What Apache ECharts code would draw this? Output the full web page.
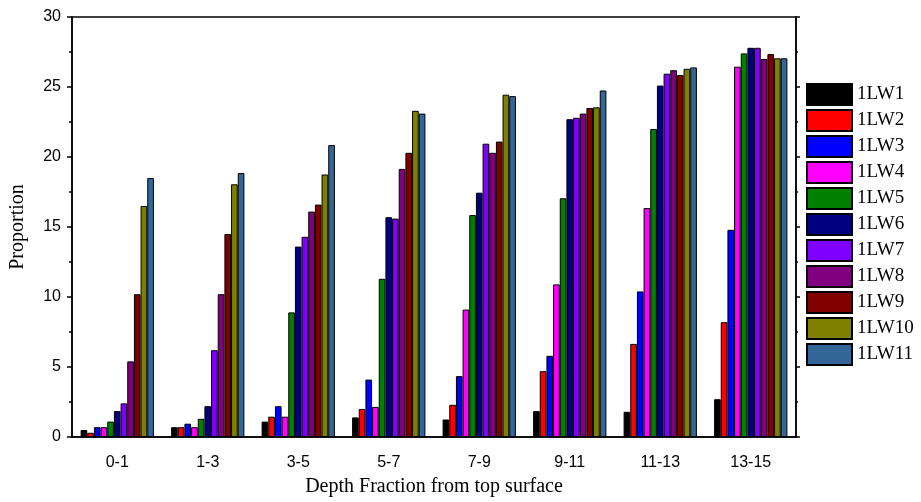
<!DOCTYPE html>
<html>
<head>
<meta charset="utf-8">
<script src="https://cdn.jsdelivr.net/npm/echarts@6/dist/echarts.min.js"></script>
<style>
  html, body { margin: 0; padding: 0; background: #fff; }
  #chart { width: 921px; height: 502px; }
</style>
</head>
<body>
<div id="chart"></div>
<script>
// depth fractions along the x axis
const categories = ['0-1', '1-3', '3-5', '5-7', '7-9', '9-11', '11-13', '13-15'];

// one array per sample, values per depth fraction
const lw1  = [0.5, 0.7, 1.1, 1.4, 1.25, 1.85, 1.8, 2.7];
const lw2  = [0.3, 0.7, 1.45, 2.0, 2.3, 4.7, 6.65, 8.2];
const lw3  = [0.7, 0.95, 2.2, 4.1, 4.35, 5.8, 10.4, 14.8];
const lw4  = [0.7, 0.7, 1.45, 2.15, 9.1, 10.9, 16.35, 26.45];
const lw5  = [1.1, 1.3, 8.9, 11.3, 15.85, 17.05, 22.0, 27.4];
const lw6  = [1.85, 2.2, 13.6, 15.7, 17.45, 22.7, 25.1, 27.8];
const lw7  = [2.4, 6.2, 14.3, 15.6, 20.95, 22.8, 25.95, 27.8];
const lw8  = [5.4, 10.2, 16.1, 19.15, 20.3, 23.1, 26.2, 27.0];
const lw9  = [10.2, 14.5, 16.6, 20.3, 21.1, 23.5, 25.85, 27.35];
const lw10 = [16.5, 18.05, 18.75, 23.3, 24.45, 23.55, 26.3, 27.05];
const lw11 = [18.5, 18.85, 20.85, 23.1, 24.35, 24.75, 26.4, 27.05];

const seriesNames = ['1LW1', '1LW2', '1LW3', '1LW4', '1LW5', '1LW6', '1LW7', '1LW8', '1LW9', '1LW10', '1LW11'];
const seriesData = [lw1, lw2, lw3, lw4, lw5, lw6, lw7, lw8, lw9, lw10, lw11];
const colors = ['#000000', '#ff0000', '#0000ff', '#ff00ff', '#008000', '#000080',
                '#8000ff', '#800080', '#800000', '#808000', '#336699'];

const serif = '"Liberation Serif", "Times New Roman", serif';
const sans = '"Liberation Sans", Arial, sans-serif';

const chart = echarts.init(document.getElementById('chart'));

chart.setOption({
  animation: false,
  grid: {
    left: 68, right: 125, top: 17, bottom: 60,
    show: true, borderColor: '#000', borderWidth: 1.5
  },
  legend: {
    orient: 'vertical',
    left: 806,
    top: 83,
    padding: 0,
    itemWidth: 45,
    itemHeight: 21,
    itemGap: 3,
    icon: 'rect',
    textStyle: { fontFamily: serif, fontSize: 19, color: '#000', lineHeight: 22.6 },
    data: seriesNames
  },
  xAxis: [
    {
      type: 'category',
      data: categories,
      position: 'bottom',
      name: 'Depth Fraction from top surface',
      nameLocation: 'middle',
      nameGap: 40,
      nameTextStyle: { fontFamily: serif, fontSize: 20, color: '#000' },
      axisLine: { lineStyle: { color: '#000', width: 1.5 } },
      axisTick: { alignWithLabel: true, length: 6, lineStyle: { color: '#000', width: 1.5 } },
      axisLabel: { fontFamily: sans, fontSize: 16, color: '#000', margin: 18 }
    },
    {
      // boundary ticks (shorter) between groups
      type: 'category',
      data: categories,
      position: 'bottom',
      axisLine: { show: false },
      axisTick: { length: 4, lineStyle: { color: '#000', width: 1.5 } },
      axisLabel: { show: false }
    }
  ],
  yAxis: [
    {
      type: 'value',
      min: 0, max: 30, interval: 5,
      name: 'Proportion',
      nameLocation: 'middle',
      nameGap: 44,
      nameTextStyle: { fontFamily: serif, fontSize: 20, color: '#000' },
      axisLine: { show: true, lineStyle: { color: '#000', width: 1.5 } },
      axisTick: { show: true, length: 5, lineStyle: { color: '#000', width: 1.5 } },
      minorTick: { show: true, splitNumber: 2, length: 3, lineStyle: { color: '#000', width: 1.5 } },
      axisLabel: { fontFamily: sans, fontSize: 16, color: '#000', margin: 11 },
      splitLine: { show: false }
    },
    {
      type: 'value',
      position: 'right',
      min: 0, max: 30, interval: 5,
      axisLine: { show: true, lineStyle: { color: '#000', width: 1.5 } },
      axisTick: { show: true, length: 4, lineStyle: { color: '#000', width: 1.5 } },
      minorTick: { show: true, splitNumber: 2, length: 2, lineStyle: { color: '#000', width: 1.5 } },
      axisLabel: { show: false },
      splitLine: { show: false }
    }
  ],
  series: seriesNames.map((name, i) => ({
    name,
    type: 'bar',
    data: seriesData[i],
    barGap: '0%',
    barCategoryGap: '19%',
    itemStyle: { color: colors[i], borderColor: '#000', borderWidth: 1 }
  }))
});
</script>
</body>
</html>
